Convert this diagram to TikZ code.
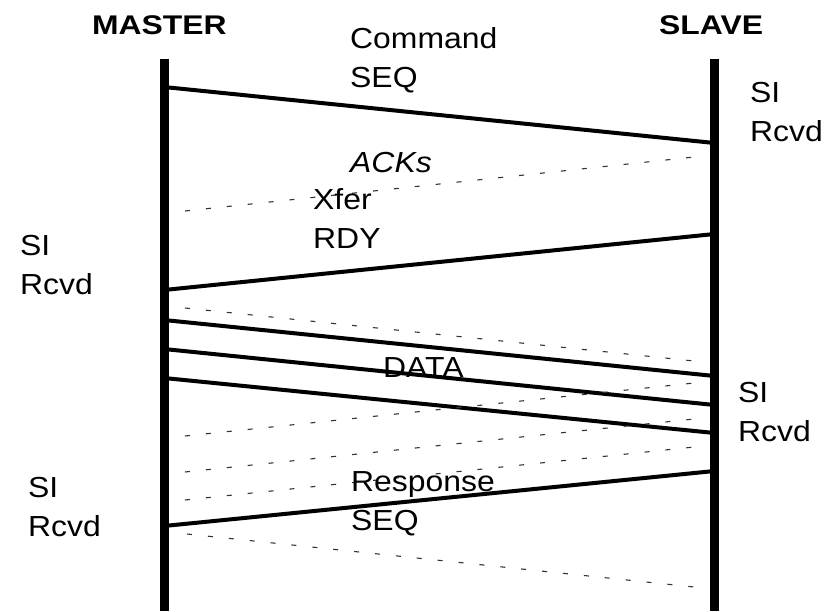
\documentclass[tikz,border=0pt]{standalone}
\usepackage{fontspec}
\newfontfamily\labfont[FakeStretch=1.1]{Liberation Sans}
\newfontfamily\headfont[FakeStretch=1.18]{Liberation Sans}
\begin{document}
\begin{tikzpicture}[x=1pt,y=-1pt,
  lifeline/.style={line width=9pt},
  msg/.style={line width=4pt},
  ack/.style={line width=1.1pt, black!80, dash pattern=on 5pt off 16pt},
  lbl/.style={font=\labfont\fontsize{29}{39}\selectfont, align=left, anchor=base west, inner sep=0pt},
  head/.style={font=\headfont\bfseries\fontsize{27}{32}\selectfont, anchor=base west, inner sep=0pt}]
\useasboundingbox[fill=white] (0,0) rectangle (825,611);

% headings
\node[head] (master) at (92,34) {MASTER};
\node[head] (slave) at (659,34) {SLAVE};

% lifelines
\coordinate (mtop) at (164,59);
\coordinate (mbot) at (164,611);
\coordinate (stop) at (714.5,59);
\coordinate (sbot) at (714.5,611);
\draw[lifeline] (mtop) -- (mbot);
\draw[lifeline] (stop) -- (sbot);

% message end points on the master side
\coordinate (m1) at (164,87);
\coordinate (m2) at (164,290);
\coordinate (m3) at (164,320);
\coordinate (m4) at (164,349);
\coordinate (m5) at (164,378);
\coordinate (m6) at (164,526);
% message end points on the slave side
\coordinate (s1) at (714.5,143);
\coordinate (s2) at (714.5,234);
\coordinate (s3) at (714.5,376);
\coordinate (s4) at (714.5,405);
\coordinate (s5) at (714.5,433);
\coordinate (s6) at (714.5,471);

% frames
\draw[msg] (m1) -- (s1);
\draw[msg] (s2) -- (m2);
\draw[msg] (m3) -- (s3);
\draw[msg] (m4) -- (s4);
\draw[msg] (m5) -- (s5);
\draw[msg] (s6) -- (m6);

% acknowledgements
\coordinate (a1l) at (185,211);  \coordinate (a1r) at (694,157);
\coordinate (a2l) at (185,308);  \coordinate (a2r) at (694,361);
\coordinate (a3l) at (185,436);  \coordinate (a3r) at (694,383);
\coordinate (a4l) at (185,472);  \coordinate (a4r) at (694,419);
\coordinate (a5l) at (185,500);  \coordinate (a5r) at (694,447);
\coordinate (a6l) at (187,534);  \coordinate (a6r) at (694,587);
\draw[ack] (a1l) -- (a1r);
\draw[ack] (a2l) -- (a2r);
\draw[ack] (a3l) -- (a3r);
\draw[ack] (a4l) -- (a4r);
\draw[ack] (a5l) -- (a5r);
\draw[ack] (a6l) -- (a6r);

% labels (anchored on the baseline of their last line)
\node[lbl] (cmd) at (350,87) {Command\\SEQ};
\node[lbl] (si1) at (750,141) {SI\\Rcvd};
\node[lbl] (acks) at (350,172) {\itshape ACKs};
\node[lbl] (xfer) at (313,248) {Xfer\\RDY};
\node[lbl] (si2) at (20,294) {SI\\Rcvd};
\node[lbl] (data) at (383,377) {DATA};
\node[lbl] (si3) at (738,441) {SI\\Rcvd};
\node[lbl] (resp) at (351,530) {Response\\SEQ};
\node[lbl] (si4) at (28,536) {SI\\Rcvd};
\end{tikzpicture}
\end{document}
